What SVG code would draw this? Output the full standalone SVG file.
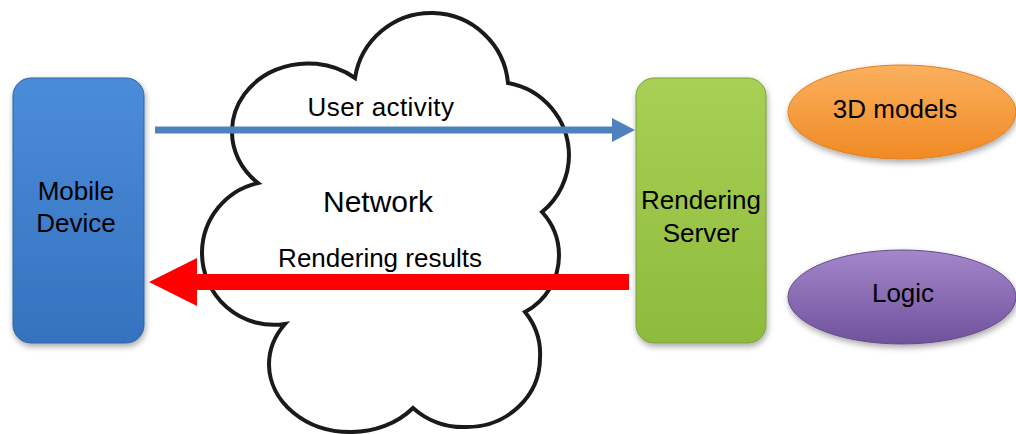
<svg xmlns="http://www.w3.org/2000/svg" width="1016" height="434" viewBox="0 0 1016 434">
<style>
text { font-family: "Liberation Sans", Arial, sans-serif; fill: #000; text-anchor: middle; }
.lbl { font-size: 26px; }
.big { font-size: 30px; }
.cloud { fill: #fff; stroke: #1a1a1a; stroke-width: 4; stroke-linejoin: miter; }
</style>
<defs>
<linearGradient id="gBlue" x1="0" y1="0" x2="0" y2="1">
<stop offset="0" stop-color="#4b8cd8"/><stop offset="1" stop-color="#3572bf"/>
</linearGradient>
<linearGradient id="gGreen" x1="0" y1="0" x2="0" y2="1">
<stop offset="0" stop-color="#a7d054"/><stop offset="1" stop-color="#8ebb3c"/>
</linearGradient>
<linearGradient id="gOrange" x1="0" y1="0" x2="0" y2="1">
<stop offset="0" stop-color="#fbb05e"/><stop offset="1" stop-color="#f08a24"/>
</linearGradient>
<linearGradient id="gPurple" x1="0" y1="0" x2="0" y2="1">
<stop offset="0" stop-color="#a486cb"/><stop offset="1" stop-color="#6f529b"/>
</linearGradient>
<filter id="sh" x="-20%" y="-20%" width="140%" height="140%">
<feGaussianBlur in="SourceAlpha" stdDeviation="3"/>
<feOffset dx="1" dy="3" result="b"/>
<feComponentTransfer><feFuncA type="linear" slope="0.35"/></feComponentTransfer>
<feMerge><feMergeNode/><feMergeNode in="SourceGraphic"/></feMerge>
</filter>
</defs>

<g id="network">
<path class="cloud" d="M258,183 A76 68 0 0 1 232,130 A76 68 0 0 1 355,78 A77 77 0 0 1 433,13 A77 77 0 0 1 508,83 A74 74 0 0 1 569,155 A74 74 0 0 1 542,212 A64 64 0 0 1 559,255 A64 64 0 0 1 525,312 A73 69 0 0 1 540,358 A73 69 0 0 1 467,427 A73 69 0 0 1 413,408 A81 68 0 0 1 350,432 A81 68 0 0 1 269,365 A81 68 0 0 1 285,324 A72 72 0 0 1 202,252 A72 72 0 0 1 258,183 Z"/>
<text class="big" x="378" y="212">Network</text>
</g>

<g id="mobile-device">
<rect x="13" y="78" width="131" height="265" rx="18" fill="url(#gBlue)" stroke="#2f63a3" stroke-width="1" filter="url(#sh)"/>
<text class="lbl" x="76" y="200">Mobile</text>
<text class="lbl" x="76" y="232">Device</text>
</g>

<g id="rendering-server">
<rect x="636" y="78" width="130" height="265" rx="18" fill="url(#gGreen)" stroke="#7c9f3c" stroke-width="1" filter="url(#sh)"/>
<text class="lbl" x="701" y="209">Rendering</text>
<text class="lbl" x="701" y="242">Server</text>
</g>

<g id="models-3d">
<ellipse cx="902" cy="112" rx="114" ry="47" fill="url(#gOrange)" stroke="#e07f20" stroke-width="1" filter="url(#sh)"/>
<text class="lbl" x="895" y="118">3D models</text>
</g>

<g id="logic">
<ellipse cx="902" cy="297" rx="114" ry="47" fill="url(#gPurple)" stroke="#654a8c" stroke-width="1" filter="url(#sh)"/>
<text class="lbl" x="903" y="302">Logic</text>
</g>

<g id="connectors">
<line x1="155" y1="130" x2="613" y2="130" stroke="#4f81bd" stroke-width="7"/>
<polygon points="612,118 635,130 612,142" fill="#4f81bd"/>
<rect x="196" y="274" width="433" height="16" fill="#ff0000"/>
<polygon points="197,258 149,282 197,306" fill="#ff0000"/>
<text class="lbl" x="381" y="116" letter-spacing="0.4">User activity</text>
<text class="lbl" x="380" y="267">Rendering results</text>
</g>
</svg>
